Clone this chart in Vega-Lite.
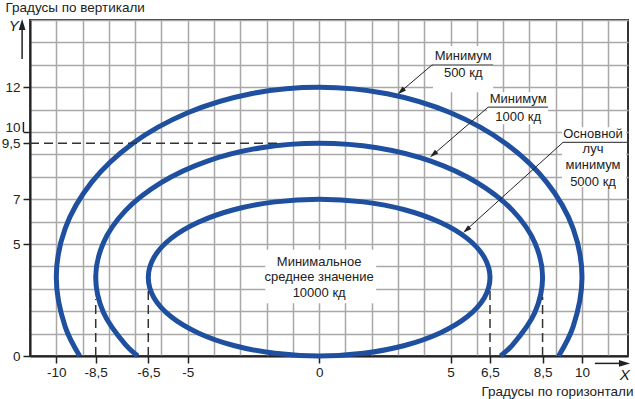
{
  "$schema": "https://vega.github.io/schema/vega-lite/v6.json",
  "width": 598,
  "height": 336,
  "autosize": "none",
  "padding": {"left": 30, "top": 20, "right": 7, "bottom": 43},
  "background": "white",
  "config": {
    "view": {"stroke": "#333333", "strokeWidth": 2},
    "font": "Liberation Sans",
    "text": {"font": "Liberation Sans"},
    "axis": {
      "domainColor": "#222222",
      "domainWidth": 2,
      "gridColor": "#a8a8a8",
      "gridWidth": 1.5,
      "tickColor": "#222222",
      "tickWidth": 1.5,
      "tickSize": 7,
      "labelFont": "Liberation Sans",
      "labelFontSize": 13.5,
      "labelColor": "#222222",
      "titleFont": "Liberation Sans",
      "titleFontSize": 13.5,
      "titleFontWeight": "normal",
      "titleColor": "#222222"
    }
  },
  "datasets": {
    "boxes": [
      {"x": 4.33, "x2": 6.62, "y": 11.78, "y2": 13.84},
      {"x": 6.39, "x2": 8.71, "y": 10.35, "y2": 11.78},
      {"x": 9.24, "x2": 11.68, "y": 7.56, "y2": 10.21},
      {"x": -2.05, "x2": 2.17, "y": 2.36, "y2": 4.74}
    ],
    "curves": [
      {"curve": "500", "order": 0, "x": -9.11, "y": 0},
      {"curve": "500", "order": 1, "x": -9.66, "y": 1.3},
      {"curve": "500", "order": 2, "x": -10, "y": 3.5},
      {"curve": "500", "order": 3, "x": -9.66, "y": 5.7},
      {"curve": "500", "order": 4, "x": -8.66, "y": 7.75},
      {"curve": "500", "order": 5, "x": -7.07, "y": 9.51},
      {"curve": "500", "order": 6, "x": -5.0, "y": 10.86},
      {"curve": "500", "order": 7, "x": -2.59, "y": 11.71},
      {"curve": "500", "order": 8, "x": 0, "y": 12},
      {"curve": "500", "order": 9, "x": 2.59, "y": 11.71},
      {"curve": "500", "order": 10, "x": 5.0, "y": 10.86},
      {"curve": "500", "order": 11, "x": 7.07, "y": 9.51},
      {"curve": "500", "order": 12, "x": 8.66, "y": 7.75},
      {"curve": "500", "order": 13, "x": 9.66, "y": 5.7},
      {"curve": "500", "order": 14, "x": 10, "y": 3.5},
      {"curve": "500", "order": 15, "x": 9.66, "y": 1.3},
      {"curve": "500", "order": 16, "x": 9.11, "y": 0},
      {"curve": "1000", "order": 0, "x": -6.9, "y": 0},
      {"curve": "1000", "order": 1, "x": -7.36, "y": 0.5},
      {"curve": "1000", "order": 2, "x": -8.21, "y": 1.95},
      {"curve": "1000", "order": 3, "x": -8.5, "y": 3.5},
      {"curve": "1000", "order": 4, "x": -8.21, "y": 5.05},
      {"curve": "1000", "order": 5, "x": -7.36, "y": 6.5},
      {"curve": "1000", "order": 6, "x": -6.01, "y": 7.74},
      {"curve": "1000", "order": 7, "x": -4.25, "y": 8.7},
      {"curve": "1000", "order": 8, "x": -2.2, "y": 9.3},
      {"curve": "1000", "order": 9, "x": 0, "y": 9.5},
      {"curve": "1000", "order": 10, "x": 2.2, "y": 9.3},
      {"curve": "1000", "order": 11, "x": 4.25, "y": 8.7},
      {"curve": "1000", "order": 12, "x": 6.01, "y": 7.74},
      {"curve": "1000", "order": 13, "x": 7.36, "y": 6.5},
      {"curve": "1000", "order": 14, "x": 8.21, "y": 5.05},
      {"curve": "1000", "order": 15, "x": 8.5, "y": 3.5},
      {"curve": "1000", "order": 16, "x": 8.21, "y": 1.95},
      {"curve": "1000", "order": 17, "x": 7.36, "y": 0.5},
      {"curve": "1000", "order": 18, "x": 6.9, "y": 0}
    ],
    "inner": [
      {"order": 0, "x": 6.5, "y": 3.5},
      {"order": 1, "x": 6.28, "y": 4.41},
      {"order": 2, "x": 5.63, "y": 5.25},
      {"order": 3, "x": 4.6, "y": 5.97},
      {"order": 4, "x": 3.25, "y": 6.53},
      {"order": 5, "x": 1.68, "y": 6.88},
      {"order": 6, "x": 0, "y": 7},
      {"order": 7, "x": -1.68, "y": 6.88},
      {"order": 8, "x": -3.25, "y": 6.53},
      {"order": 9, "x": -4.6, "y": 5.97},
      {"order": 10, "x": -5.63, "y": 5.25},
      {"order": 11, "x": -6.28, "y": 4.41},
      {"order": 12, "x": -6.5, "y": 3.5},
      {"order": 13, "x": -6.28, "y": 2.59},
      {"order": 14, "x": -5.63, "y": 1.75},
      {"order": 15, "x": -4.6, "y": 1.03},
      {"order": 16, "x": -3.25, "y": 0.47},
      {"order": 17, "x": -1.68, "y": 0.12},
      {"order": 18, "x": 0, "y": 0},
      {"order": 19, "x": 1.68, "y": 0.12},
      {"order": 20, "x": 3.25, "y": 0.47},
      {"order": 21, "x": 4.6, "y": 1.03},
      {"order": 22, "x": 5.63, "y": 1.75},
      {"order": 23, "x": 6.28, "y": 2.59}
    ],
    "dashed": [
      {"x": -11, "y": 9.5, "x2": -1.6, "y2": 9.5},
      {"x": -8.5, "y": 0, "x2": -8.5, "y2": 2.55},
      {"x": -6.5, "y": 0, "x2": -6.5, "y2": 2.9},
      {"x": 6.5, "y": 0, "x2": 6.5, "y2": 2.9},
      {"x": 8.5, "y": 0, "x2": 8.5, "y2": 2.65}
    ],
    "leaders": [
      {"x": 4.29, "y": 12.99, "x2": 6.62, "y2": 12.99},
      {"x": 6.43, "y": 11.11, "x2": 8.71, "y2": 11.11},
      {"x": 9.28, "y": 9.54, "x2": 11.71, "y2": 9.54},
      {"x": 4.29, "y": 12.99, "x2": 3.05, "y2": 11.75},
      {"x": 6.43, "y": 11.11, "x2": 4.3, "y2": 8.95},
      {"x": 9.28, "y": 9.54, "x2": 5.55, "y2": 5.58}
    ],
    "arrowtips": [
      {"x": 2.99, "y": 11.69},
      {"x": 4.22, "y": 8.87},
      {"x": 5.48, "y": 5.5}
    ],
    "notes": [
      {"text": "Минимум", "x": 5.48, "y": 13.39},
      {"text": "500 кд", "x": 5.48, "y": 12.63},
      {"text": "Минимум", "x": 7.57, "y": 11.47},
      {"text": "1000 кд", "x": 7.57, "y": 10.66},
      {"text": "Основной", "x": 10.42, "y": 9.9},
      {"text": "луч", "x": 10.42, "y": 9.22},
      {"text": "минимум", "x": 10.42, "y": 8.51},
      {"text": "5000 кд", "x": 10.42, "y": 7.79},
      {"text": "Минимальное", "x": 0, "y": 4.2},
      {"text": "среднее значение", "x": 0, "y": 3.51},
      {"text": "10000 кд", "x": 0, "y": 2.83}
    ],
    "axisrules": [
      {"x": -11.3, "y": 13.26, "x2": -11.3, "y2": 14.6},
      {"x": -11.25, "y": 10, "x2": -11.25, "y2": 10.45},
      {"x": 10.49, "y": -0.33, "x2": 11.5, "y2": -0.33}
    ],
    "axisarrows": [
      {"dir": "up", "x": -11.3, "y": 15.05},
      {"dir": "right", "x": 11.83, "y": -0.33}
    ],
    "axisletters": [
      {"text": "Y", "x": -11.62, "y": 14.74},
      {"text": "X", "x": 11.63, "y": -0.86}
    ]
  },
  "layer": [
    {
      "data": {"name": "boxes"},
      "mark": {"type": "rect", "fill": "white"},
      "encoding": {
        "x": {
          "field": "x", "type": "quantitative",
          "scale": {"domain": [-11, 11.75], "nice": false, "zero": false},
          "axis": {
            "values": [-11, -10, -9, -8.5, -8, -7, -6.5, -6, -5, -4, -3, -2, -1, 0, 1, 2, 3, 4, 5, 6, 6.5, 7, 8, 8.5, 9, 10, 11],
            "tickCount": 100,
            "labelExpr": "indexof([-10, -8.5, -6.5, -5, 0, 5, 6.5, 8.5, 10], datum.value) >= 0 ? replace(toString(datum.value), '.', ',') : ''",
            "tickOpacity": {"condition": {"test": "indexof([-10, -8.5, -6.5, -5, 0, 5, 6.5, 8.5, 10], datum.value) < 0", "value": 0}, "value": 1},
            "gridOpacity": {"condition": {"test": "datum.value % 1 != 0", "value": 0}, "value": 1},
            "labelPadding": 2,
            "labelFlush": false,
            "labelOverlap": false,
            "title": "Градусы по горизонтали",
            "titleX": 603,
            "titleY": 35,
            "titleAlign": "right",
            "titleBaseline": "middle"
          }
        },
        "x2": {"field": "x2"},
        "y": {
          "field": "y", "type": "quantitative",
          "scale": {"domain": [0, 15], "nice": false, "zero": false},
          "axis": {
            "values": [0, 1, 2, 3, 4, 5, 6, 7, 8, 9, 9.5, 10, 11, 12, 13, 14, 15],
            "tickCount": 100,
            "labelExpr": "indexof([0, 5, 7, 9.5, 10, 12], datum.value) >= 0 ? replace(toString(datum.value), '.', ',') : ''",
            "tickOpacity": {"condition": {"test": "indexof([0, 5, 7, 9.5, 10, 12], datum.value) < 0", "value": 0}, "value": 1},
            "gridOpacity": {"condition": {"test": "datum.value % 1 != 0", "value": 0}, "value": 1},
            "labelOffset": {"condition": {"test": "datum.value == 10", "value": -5}, "value": 0},
            "labelPadding": 3,
            "labelFlush": false,
            "labelOverlap": false,
            "title": "Градусы по вертикали",
            "titleAngle": 0,
            "titleX": -25,
            "titleY": -13,
            "titleAlign": "left",
            "titleBaseline": "middle"
          }
        },
        "y2": {"field": "y2"}
      }
    },
    {
      "data": {"name": "curves"},
      "mark": {"type": "line", "interpolate": "catmull-rom", "stroke": "#1f4f9f", "strokeWidth": 5},
      "encoding": {
        "x": {"field": "x", "type": "quantitative"},
        "y": {"field": "y", "type": "quantitative"},
        "detail": {"field": "curve"},
        "order": {"field": "order", "type": "quantitative"}
      }
    },
    {
      "data": {"name": "inner"},
      "mark": {"type": "line", "interpolate": "cardinal-closed", "stroke": "#1f4f9f", "strokeWidth": 5},
      "encoding": {
        "x": {"field": "x", "type": "quantitative"},
        "y": {"field": "y", "type": "quantitative"},
        "order": {"field": "order", "type": "quantitative"}
      }
    },
    {
      "data": {"name": "dashed"},
      "mark": {"type": "rule", "stroke": "#333333", "strokeWidth": 1.5, "strokeDash": [9, 5]},
      "encoding": {
        "x": {"field": "x", "type": "quantitative"},
        "y": {"field": "y", "type": "quantitative"},
        "x2": {"field": "x2"},
        "y2": {"field": "y2"}
      }
    },
    {
      "data": {"name": "leaders"},
      "mark": {"type": "rule", "stroke": "#222222", "strokeWidth": 1},
      "encoding": {
        "x": {"field": "x", "type": "quantitative"},
        "y": {"field": "y", "type": "quantitative"},
        "x2": {"field": "x2"},
        "y2": {"field": "y2"}
      }
    },
    {
      "data": {"name": "arrowtips"},
      "mark": {"type": "point", "shape": "M0,0L0.3,1L-0.3,1Z", "filled": true, "color": "#222222", "opacity": 1, "size": 300, "angle": 229},
      "encoding": {
        "x": {"field": "x", "type": "quantitative"},
        "y": {"field": "y", "type": "quantitative"}
      }
    },
    {
      "data": {"name": "notes"},
      "mark": {"type": "text", "fontSize": 13, "color": "#222222", "align": "center", "baseline": "middle"},
      "encoding": {
        "x": {"field": "x", "type": "quantitative"},
        "y": {"field": "y", "type": "quantitative"},
        "text": {"field": "text"}
      }
    },
    {
      "data": {"name": "axisrules"},
      "mark": {"type": "rule", "stroke": "#222222", "strokeWidth": 1.5},
      "encoding": {
        "x": {"field": "x", "type": "quantitative"},
        "y": {"field": "y", "type": "quantitative"},
        "x2": {"field": "x2"},
        "y2": {"field": "y2"}
      }
    },
    {
      "data": {"name": "axisarrows"},
      "transform": [{"filter": "datum.dir == 'up'"}],
      "mark": {"type": "point", "shape": "M0,0L0.3,1L-0.3,1Z", "filled": true, "color": "#222222", "opacity": 1, "size": 500, "angle": 0},
      "encoding": {
        "x": {"field": "x", "type": "quantitative"},
        "y": {"field": "y", "type": "quantitative"}
      }
    },
    {
      "data": {"name": "axisarrows"},
      "transform": [{"filter": "datum.dir == 'right'"}],
      "mark": {"type": "point", "shape": "M0,0L0.3,1L-0.3,1Z", "filled": true, "color": "#222222", "opacity": 1, "size": 500, "angle": 90},
      "encoding": {
        "x": {"field": "x", "type": "quantitative"},
        "y": {"field": "y", "type": "quantitative"}
      }
    },
    {
      "data": {"name": "axisletters"},
      "mark": {"type": "text", "fontSize": 15, "fontStyle": "italic", "color": "#222222", "align": "center", "baseline": "middle"},
      "encoding": {
        "x": {"field": "x", "type": "quantitative"},
        "y": {"field": "y", "type": "quantitative"},
        "text": {"field": "text"}
      }
    }
  ]
}
